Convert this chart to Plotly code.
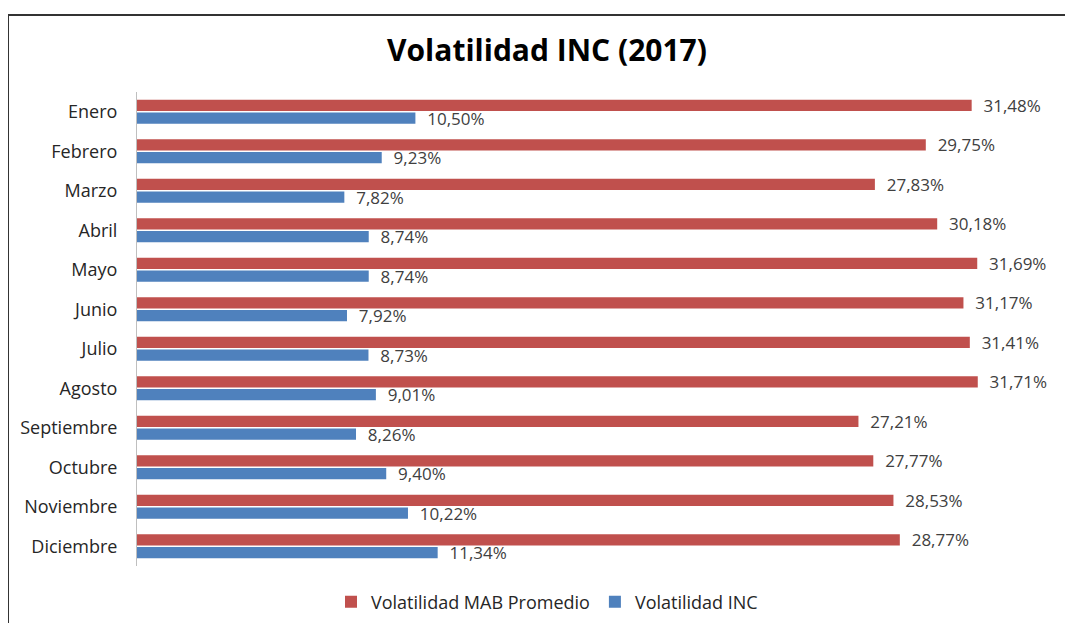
import plotly.graph_objects as go

months = ["Enero", "Febrero", "Marzo", "Abril", "Mayo", "Junio", "Julio",
          "Agosto", "Septiembre", "Octubre", "Noviembre", "Diciembre"]
mab = [31.48, 29.75, 27.83, 30.18, 31.69, 31.17, 31.41, 31.71, 27.21, 27.77, 28.53, 28.77]
inc = [10.50, 9.23, 7.82, 8.74, 8.74, 7.92, 8.73, 9.01, 8.26, 9.40, 10.22, 11.34]

def fmt(v):
    return "  " + f"{v:.2f}".replace(".", ",") + "%"

FONT = "Open Sans"
TXT = "#404040"
W, H = 1065, 615

fig = go.Figure()
fig.add_trace(go.Bar(
    y=months, x=mab, orientation="h", name="Volatilidad MAB Promedio",
    marker=dict(color="#C0504D", line=dict(width=0)),
    text=[fmt(v) for v in mab], textposition="outside", cliponaxis=False,
    constraintext="none",
    textfont=dict(family=FONT, size=17, color=TXT),
))
fig.add_trace(go.Bar(
    y=months, x=inc, orientation="h", name="Volatilidad INC",
    marker=dict(color="#4F81BD", line=dict(width=0)),
    text=[fmt(v) for v in inc], textposition="outside", cliponaxis=False,
    constraintext="none",
    textfont=dict(family=FONT, size=17, color=TXT),
))

fig.update_layout(
    width=W, height=H,
    margin=dict(l=129, r=8, t=84, b=57, autoexpand=False),
    paper_bgcolor="white", plot_bgcolor="white",
    barmode="group", bargap=0.36, bargroupgap=0.1,
    title=dict(text="<b>Volatilidad INC (2017)</b>", x=539 / W, xanchor="center",
               y=1 - 42 / H, yanchor="middle",
               font=dict(family=FONT, size=30, color="black")),
    font=dict(family=FONT, color=TXT),
    xaxis=dict(range=[0, 35], visible=False, showgrid=False, zeroline=False),
    yaxis=dict(autorange="reversed", showline=True, linecolor="#BFBFBF", linewidth=1,
               showgrid=False, ticks="", ticklabelstandoff=15,
               tickfont=dict(family=FONT, size=18, color="#262626")),
    legend=dict(orientation="h", xref="container", yref="container",
                x=539 / W, xanchor="center", y=1 - 594 / H, yanchor="middle",
                font=dict(family=FONT, size=18, color="#262626"), traceorder="normal",
                itemwidth=30),
    showlegend=True,
    shapes=[dict(type="rect", xref="paper", yref="paper",
                 x0=-0.139, x1=1.1, y0=-0.2, y1=1.1624,
                 line=dict(color="#333333", width=2), fillcolor="rgba(0,0,0,0)",
                 layer="below")],
)

fig.write_html("out.html")
